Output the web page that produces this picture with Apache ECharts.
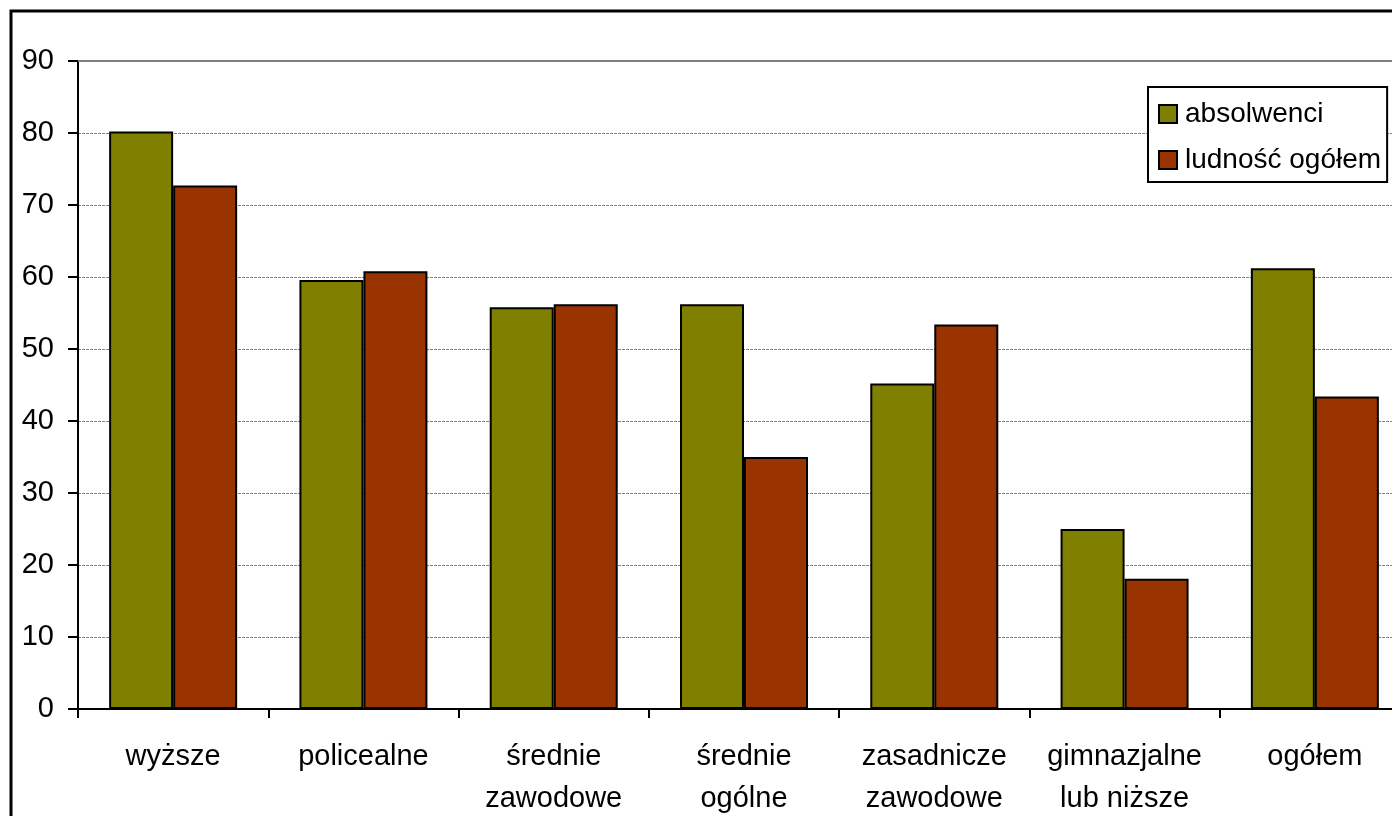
<!DOCTYPE html>
<html><head><meta charset="utf-8">
<script src="https://cdn.jsdelivr.net/npm/echarts@6/dist/echarts.min.js"></script>
<style>html,body{margin:0;padding:0;background:#fff;overflow:hidden;width:1392px;height:816px}#c{width:1420px;height:816px}</style>
</head><body><div id="c"></div>
<script>
const categories = ['wyższe', 'policealne', 'średnie\nzawodowe', 'średnie\nogólne', 'zasadnicze\nzawodowe', 'gimnazjalne\nlub niższe', 'ogółem'];
const absolwenci = [80.2, 59.6, 55.8, 56.2, 45.2, 25.0, 61.2];
const ludnosc = [72.7, 60.8, 56.2, 35.0, 53.4, 18.1, 43.4];
const seriesNames = ['absolwenci', 'ludność ogółem'];
const yTicks = {min: 0, max: 90, interval: 10};

const chart = echarts.init(document.getElementById('c'), null, {renderer: 'canvas'});
const font = '"Liberation Sans", Arial, sans-serif';
chart.setOption({
  animation: false,
  backgroundColor: '#fff',
  textStyle: {fontFamily: font, color: '#000'},
  graphic: [{
    type: 'rect', z: 100, silent: true,
    shape: {x: 11, y: 11, width: 1600, height: 1000},
    style: {fill: 'none', stroke: '#000', lineWidth: 3}
  }],
  legend: {
    orient: 'vertical', left: 1148, top: 87,
    padding: [13, 6, 8, 10],
    backgroundColor: '#fff', borderColor: '#000', borderWidth: 2,
    itemWidth: 18, itemHeight: 18, itemGap: 18,
    icon: 'rect',
    textStyle: {fontFamily: font, fontSize: 28, lineHeight: 28, color: '#000', padding: [0, 0, 0, 3]},
    data: seriesNames
  },
  grid: {left: 78, top: 61, width: 1332, height: 648, containLabel: false, outerBoundsMode: 'none'},
  xAxis: [{
    type: 'category', data: categories,
    axisLine: {lineStyle: {color: '#000', width: 2}},
    axisTick: {show: true, alignWithLabel: false, length: 9, lineStyle: {color: '#000', width: 2}},
    axisLabel: {fontFamily: font, fontSize: 29, color: '#000', lineHeight: 42, margin: 27, interval: 0}
  }, {
    type: 'category', data: categories, position: 'top',
    axisLine: {show: true, lineStyle: {color: '#808080', width: 2}},
    axisTick: {show: false}, axisLabel: {show: false}, splitLine: {show: false}
  }],
  yAxis: {
    type: 'value', min: yTicks.min, max: yTicks.max, interval: yTicks.interval,
    axisLine: {show: true, lineStyle: {color: '#000', width: 2}},
    axisTick: {show: true, length: 10, lineStyle: {color: '#000', width: 2}},
    axisLabel: {fontFamily: font, fontSize: 29, color: '#000', margin: 24},
    splitLine: {show: true, lineStyle: {color: '#808080', width: 1, type: [3, 1]}}
  },
  series: [
    {name: seriesNames[0], type: 'bar', data: absolwenci, barWidth: 64, barGap: '0%',
     itemStyle: {color: '#808000', borderColor: '#000', borderWidth: 2}},
    {name: seriesNames[1], type: 'bar', data: ludnosc, barWidth: 64, barGap: '0%',
     itemStyle: {color: '#993300', borderColor: '#000', borderWidth: 2}}
  ]
});
</script></body></html>
